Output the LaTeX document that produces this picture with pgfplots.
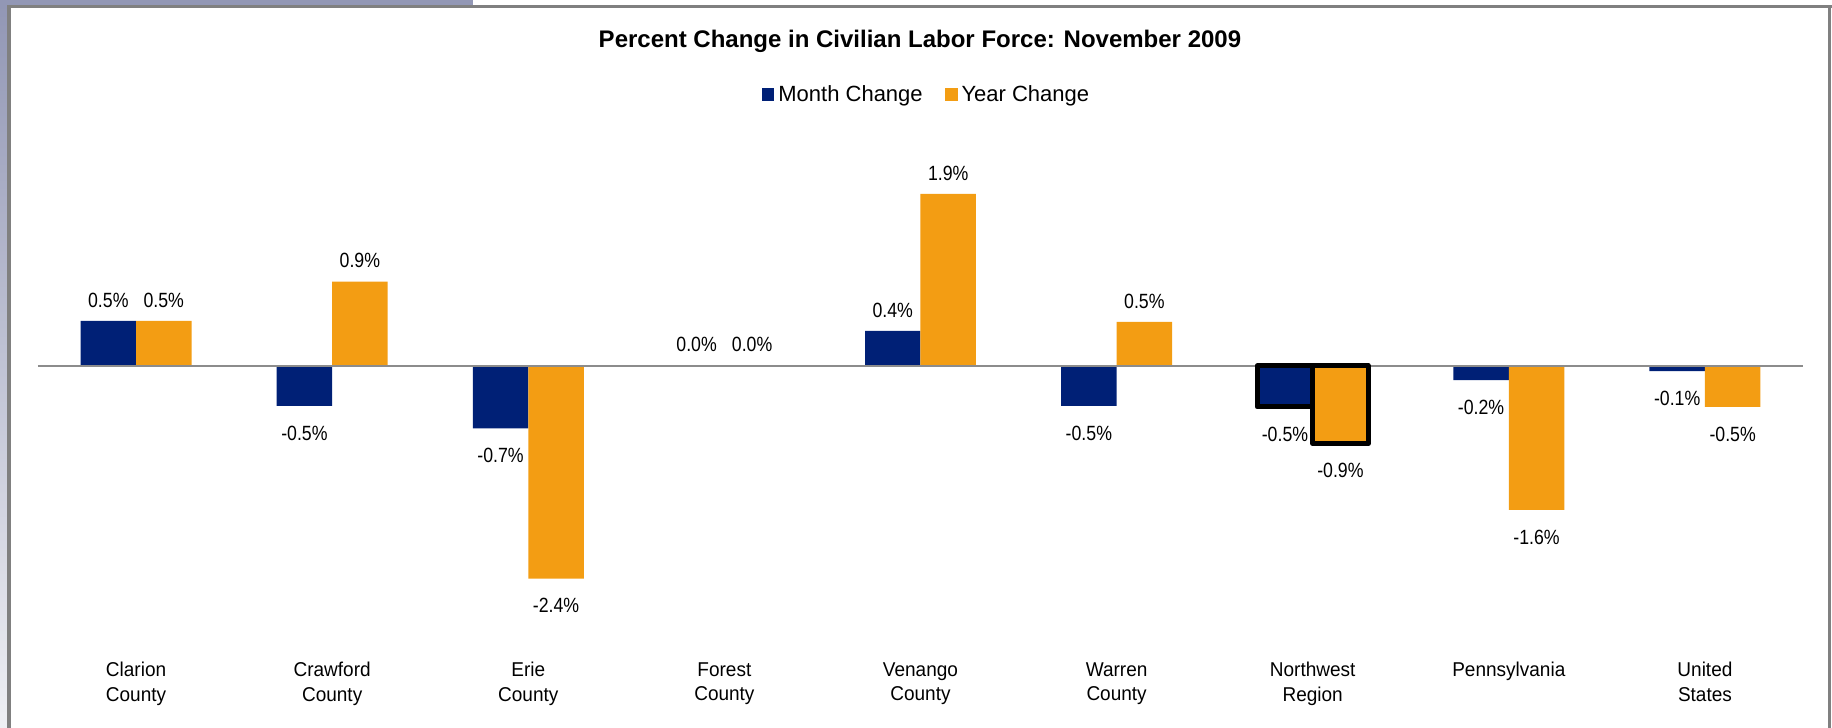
\documentclass[border=0pt]{standalone}
\usepackage{pgfplots}
\usepackage{pgfplotstable}
\pgfplotsset{compat=1.18}
\usepackage{fontspec}
\setmainfont{Liberation Sans}
\newfontfamily\valfont[FakeStretch=0.86]{Liberation Sans}
\newfontfamily\catfont[FakeStretch=0.95]{Liberation Sans}
\definecolor{navy}{RGB}{0,32,118}
\definecolor{gold}{RGB}{243,157,19}
\definecolor{framegray}{RGB}{128,128,128}
\definecolor{zerogray}{RGB}{140,140,140}
\definecolor{bandblue}{RGB}{146,151,181}

\pgfplotstableread{
x month mlab year ylab
0  0.50 0.5   0.50 0.5
1 -0.45 -0.5  0.94 0.9
2 -0.70 -0.7 -2.38 -2.4
3  0.00 0.0   0.00 0.0
4  0.39 0.4   1.92 1.9
5 -0.45 -0.5  0.49 0.5
6 -0.46 -0.5 -0.87 -0.9
7 -0.16 -0.2 -1.61 -1.6
8 -0.06 -0.1 -0.46 -0.5
}\datatable

\pgfplotsset{
  vallabels/.style={
    visualization depends on={y \as \rawy},
    nodes near coords={\pgfplotspointmeta\%},
    point meta=explicit symbolic,
    every node near coord/.append style={font=\valfont\fontsize{10.3}{12}\selectfont,
      text=black, inner sep=0pt, text height=7.4pt, text depth=0pt, anchor=center,
      yshift={(\rawy<0)*(-24)+10.6}},
  },
}

\begin{document}
\begin{tikzpicture}
\useasboundingbox (0,0) rectangle (916pt,364pt);
\fill[bandblue] (0,364pt) rectangle (236.5pt,361.7pt);
\shade[top color=bandblue, bottom color=bandblue!15] (0,0) rectangle (3.5pt,361.7pt);
\fill[framegray] (3.5pt,361.7pt) rectangle (916pt,359.8pt);
\fill[framegray] (3.5pt,0) rectangle (5.35pt,361.7pt);
\fill[framegray] (914pt,0) rectangle (915.5pt,359.8pt);
\begin{axis}[
  at={(19pt,37.95pt)}, anchor=south west,
  scale only axis, width=882.5pt, height=246.1pt,
  xmin=-0.5, xmax=8.5, ymin=-3.2, ymax=2.3,
  axis line style={draw=none},
  ytick=\empty,
  xtick={0,...,8},
  xticklabels={{Clarion\\County},{Crawford\\County},{Erie\\County},{Forest\\County},{Venango\\County},{Warren\\County},{Northwest\\Region},{Pennsylvania},{United\\States}},
  xticklabel style={align=center, font=\catfont\fontsize{10}{12.3}\selectfont, anchor=north, inner sep=0pt, yshift=-5pt},
  major tick length=0pt,
  clip=false,
  title={Percent Change in Civilian Labor Force: November 2009},
  title style={at={(0.4997,1.2173)}, anchor=center, yshift=0pt, inner sep=0pt, font=\bfseries\fontsize{12}{14}\selectfont},
  legend style={at={(0.5039,1.1328)}, anchor=center, draw=none, fill=none, legend columns=2,
    font=\fontsize{11}{13}\selectfont,
    /tikz/every even column/.append style={column sep=9pt},
    nodes={inner xsep=2pt, inner ysep=0pt}},
  legend image code/.code={\fill[#1] (0pt,-3.2pt) rectangle (6.4pt,3.2pt);},
]
\addplot[ybar, bar width=0.283, bar shift=-0.1415, fill=navy, draw=none, vallabels,
  every node near coord/.append style={xshift=-13.87pt}]
  table[x=x, y=month, meta=mlab] {\datatable};
\addplot[ybar, bar width=0.283, bar shift=0.1415, fill=gold, draw=none, vallabels,
  every node near coord/.append style={xshift=13.87pt}]
  table[x=x, y=year, meta=ylab] {\datatable};
\addplot[zerogray, line width=1.2pt, forget plot] coordinates {(-0.5,0) (8.5,0)};
\addplot[ybar, bar width=0.283, bar shift=-0.1415, fill=navy, draw=black, line width=2.5pt, line join=round, forget plot]
  coordinates {(6,-0.46)};
\addplot[ybar, bar width=0.283, bar shift=0.1415, fill=gold, draw=black, line width=2.5pt, line join=round, forget plot]
  coordinates {(6,-0.87)};
\legend{Month Change, Year Change}
\end{axis}
\end{tikzpicture}
\end{document}
